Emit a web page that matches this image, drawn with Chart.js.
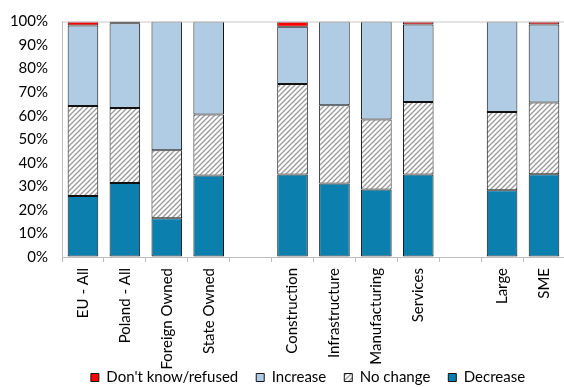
<!DOCTYPE html>
<html><head><meta charset="utf-8">
<script src="https://cdn.jsdelivr.net/npm/chart.js@4.4.1/dist/chart.umd.min.js"></script>
<style>html,body{margin:0;padding:0;background:#fff;overflow:hidden}#wrap{width:568px;height:387px}</style>
</head><body><div id="wrap"><canvas id="c"></canvas></div>
<script>
const categories = ["EU - All","Poland - All","Foreign Owned","State Owned","","Construction","Infrastructure","Manufacturing","Services","","Large","SME"];
const decrease = [25.9, 31.4, 16.5, 34.6, null, 35.0, 31.2, 28.7, 35.0, null, 28.3, 35.1];
const noChange = [38.2, 31.9, 28.8, 25.9, null, 38.5, 33.2, 29.7, 30.8, null, 33.3, 30.5];
const increase = [34.2, 36.0, 54.7, 39.5, null, 24.3, 35.6, 41.6, 32.9, null, 38.4, 33.1];
const dontKnow = [1.7, 0.7, 0, 0, null, 2.2, 0, 0, 1.3, null, 0, 1.3];
const yTicks = [0,10,20,30,40,50,60,70,80,90,100];

function hatch(){
  const s = 5, c = document.createElement('canvas');
  c.width = s; c.height = s;
  const g = c.getContext('2d');
  g.fillStyle = '#ffffff'; g.fillRect(0,0,s,s);
  g.strokeStyle = '#9a9a9a'; g.lineWidth = 1.3;
  g.beginPath();
  g.moveTo(0,s); g.lineTo(s,0);
  g.moveTo(-1,1); g.lineTo(1,-1);
  g.moveTo(s-1,s+1); g.lineTo(s+1,s-1);
  g.stroke();
  return g.createPattern(c,'repeat');
}
const hatchFill = hatch();

const helpers = {
  id:'helpers',
  afterLayout(chart){
    const L = chart.legend;
    if (L){ L.left += 24; L.right += 24; L.top -= 35; L.bottom -= 35; }
  },
  afterDraw(chart){
    const a = chart.chartArea, ctx = chart.ctx;
    ctx.save(); ctx.strokeStyle = '#c8c8c8'; ctx.lineWidth = 1;
    ctx.beginPath(); ctx.moveTo(a.left, a.top+0.5); ctx.lineTo(a.right, a.top+0.5); ctx.stroke();
    ctx.restore();
  }
};

const common = {borderColor:'#111', borderWidth:1, borderSkipped:false, barPercentage:0.73, categoryPercentage:1};
new Chart(document.getElementById('c'), {
  type:'bar',
  data:{labels:categories, datasets:[
    Object.assign({label:'Decrease', data:decrease, backgroundColor:'#0b80ae'}, common),
    Object.assign({label:'No change', data:noChange, backgroundColor:hatchFill}, common),
    Object.assign({label:'Increase', data:increase, backgroundColor:'#b0cce4'}, common),
    Object.assign({label:"Don't know/refused", data:dontKnow, backgroundColor:'#ff0000'}, common)
  ]},
  options:{
    responsive:true, maintainAspectRatio:false, animation:false,
    layout:{padding:{top:-5,right:0,left:0,bottom:-43}},
    font:{family:'Lato', size:15},
    plugins:{
      tooltip:{enabled:false},
      legend:{position:'bottom', reverse:true,
        labels:{font:{family:'Lato',size:15}, color:'#000', boxWidth:8, boxHeight:8, padding:18}}
    },
    scales:{
      x:{stacked:true,
        afterFit(axis){ axis.height = 130; },
        grid:{display:true, drawOnChartArea:false, tickLength:5, color:'#bdbdbd', offset:true},
        border:{color:'#bdbdbd'},
        ticks:{color:'#000', font:{family:'Lato',size:15}, minRotation:90, maxRotation:90, autoSkip:false, padding:6}
      },
      y:{stacked:true, min:0, max:100,
        afterFit(axis){ axis.width = 62; },
        afterBuildTicks(axis){ axis.ticks = yTicks.map(v=>({value:v})); },
        grid:{display:true, drawOnChartArea:false, tickLength:0, color:'#bdbdbd'},
        border:{color:'#bdbdbd'},
        ticks:{color:'#000', font:{family:'Lato',size:15,lineHeight:1}, padding:14, callback:v=>v+'%'}
      }
    }
  },
  plugins:[helpers]
});
</script></body></html>
